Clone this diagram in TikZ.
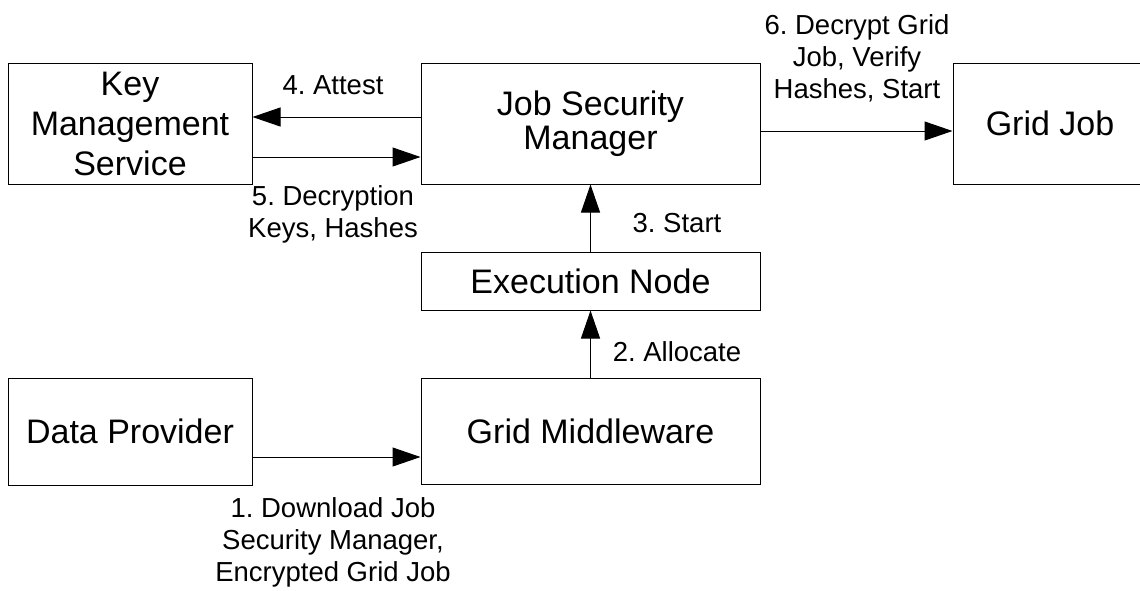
\documentclass[tikz,border=0pt]{standalone}
\usepackage{fontspec}
\setmainfont{Liberation Sans}
\usetikzlibrary{positioning,arrows.meta}
\frenchspacing

\begin{document}
\begin{tikzpicture}[
x=1pt, y=-1pt,
    box/.style={
        rectangle,
        draw,
        line width=1pt,
        inner sep=0pt,
        align=center,
        font=\fontsize{34}{40}\selectfont
    },
    lbl/.style={
        inner sep=0pt,
        align=center,
        font=\fontsize{27.5}{32}\selectfont
    },
    flow/.style={
        line width=1pt,
        -{Triangle[length=28pt,width=19pt]}
    }
]
\useasboundingbox (0,0) rectangle (1140,590);

\node[box, minimum width=244pt, minimum height=121pt] (kms) at (130,123.5) {Key\\Management\\Service};
\node[box, minimum width=339pt, minimum height=121pt] (jsm) at (590.5,123.5) {Job Security\\[-6pt]Manager};
\node[box, minimum width=194pt, minimum height=121pt] (job) at (1050,123.5) {Grid Job};
\node[box, minimum width=339pt, minimum height=58pt] (exec) at (590.5,281) {Execution Node};
\node[box, minimum width=244pt, minimum height=107pt] (data) at (130,431.5) {Data Provider};
\node[box, minimum width=339pt, minimum height=106pt] (mw) at (590.5,431.5) {Grid Middleware};

% The step labels
\node[lbl] (attest) at (333,85) {4. Attest};
\node[lbl] (keys) at (333,214) {5. Decryption\\Keys, Hashes};
\node[lbl] (start) at (677,223) {3. Start};
\node[lbl] (alloc) at (677,352) {2. Allocate};
\node[lbl] (decrypt) at (857,58) {6. Decrypt Grid\\Job, Verify\\Hashes, Start};
\node[lbl] (download) at (333,542) {1. Download Job\\Security Manager,\\Encrypted Grid Job};

% The six steps
\draw[flow] ([yshift=-25.5pt]data.east) -- ([yshift=-25.5pt]mw.west);
\draw[flow] (mw) -- (exec);
\draw[flow] (exec) -- (jsm);
\draw[flow] ([yshift=6.5pt]jsm.west) -- ([yshift=6.5pt]kms.east);
\draw[flow] ([yshift=-33.5pt]kms.east) -- ([yshift=-33.5pt]jsm.west);
\draw[flow] ([yshift=-7.5pt]jsm.east) -- ([yshift=-7.5pt]job.west);
\end{tikzpicture}
\end{document}
